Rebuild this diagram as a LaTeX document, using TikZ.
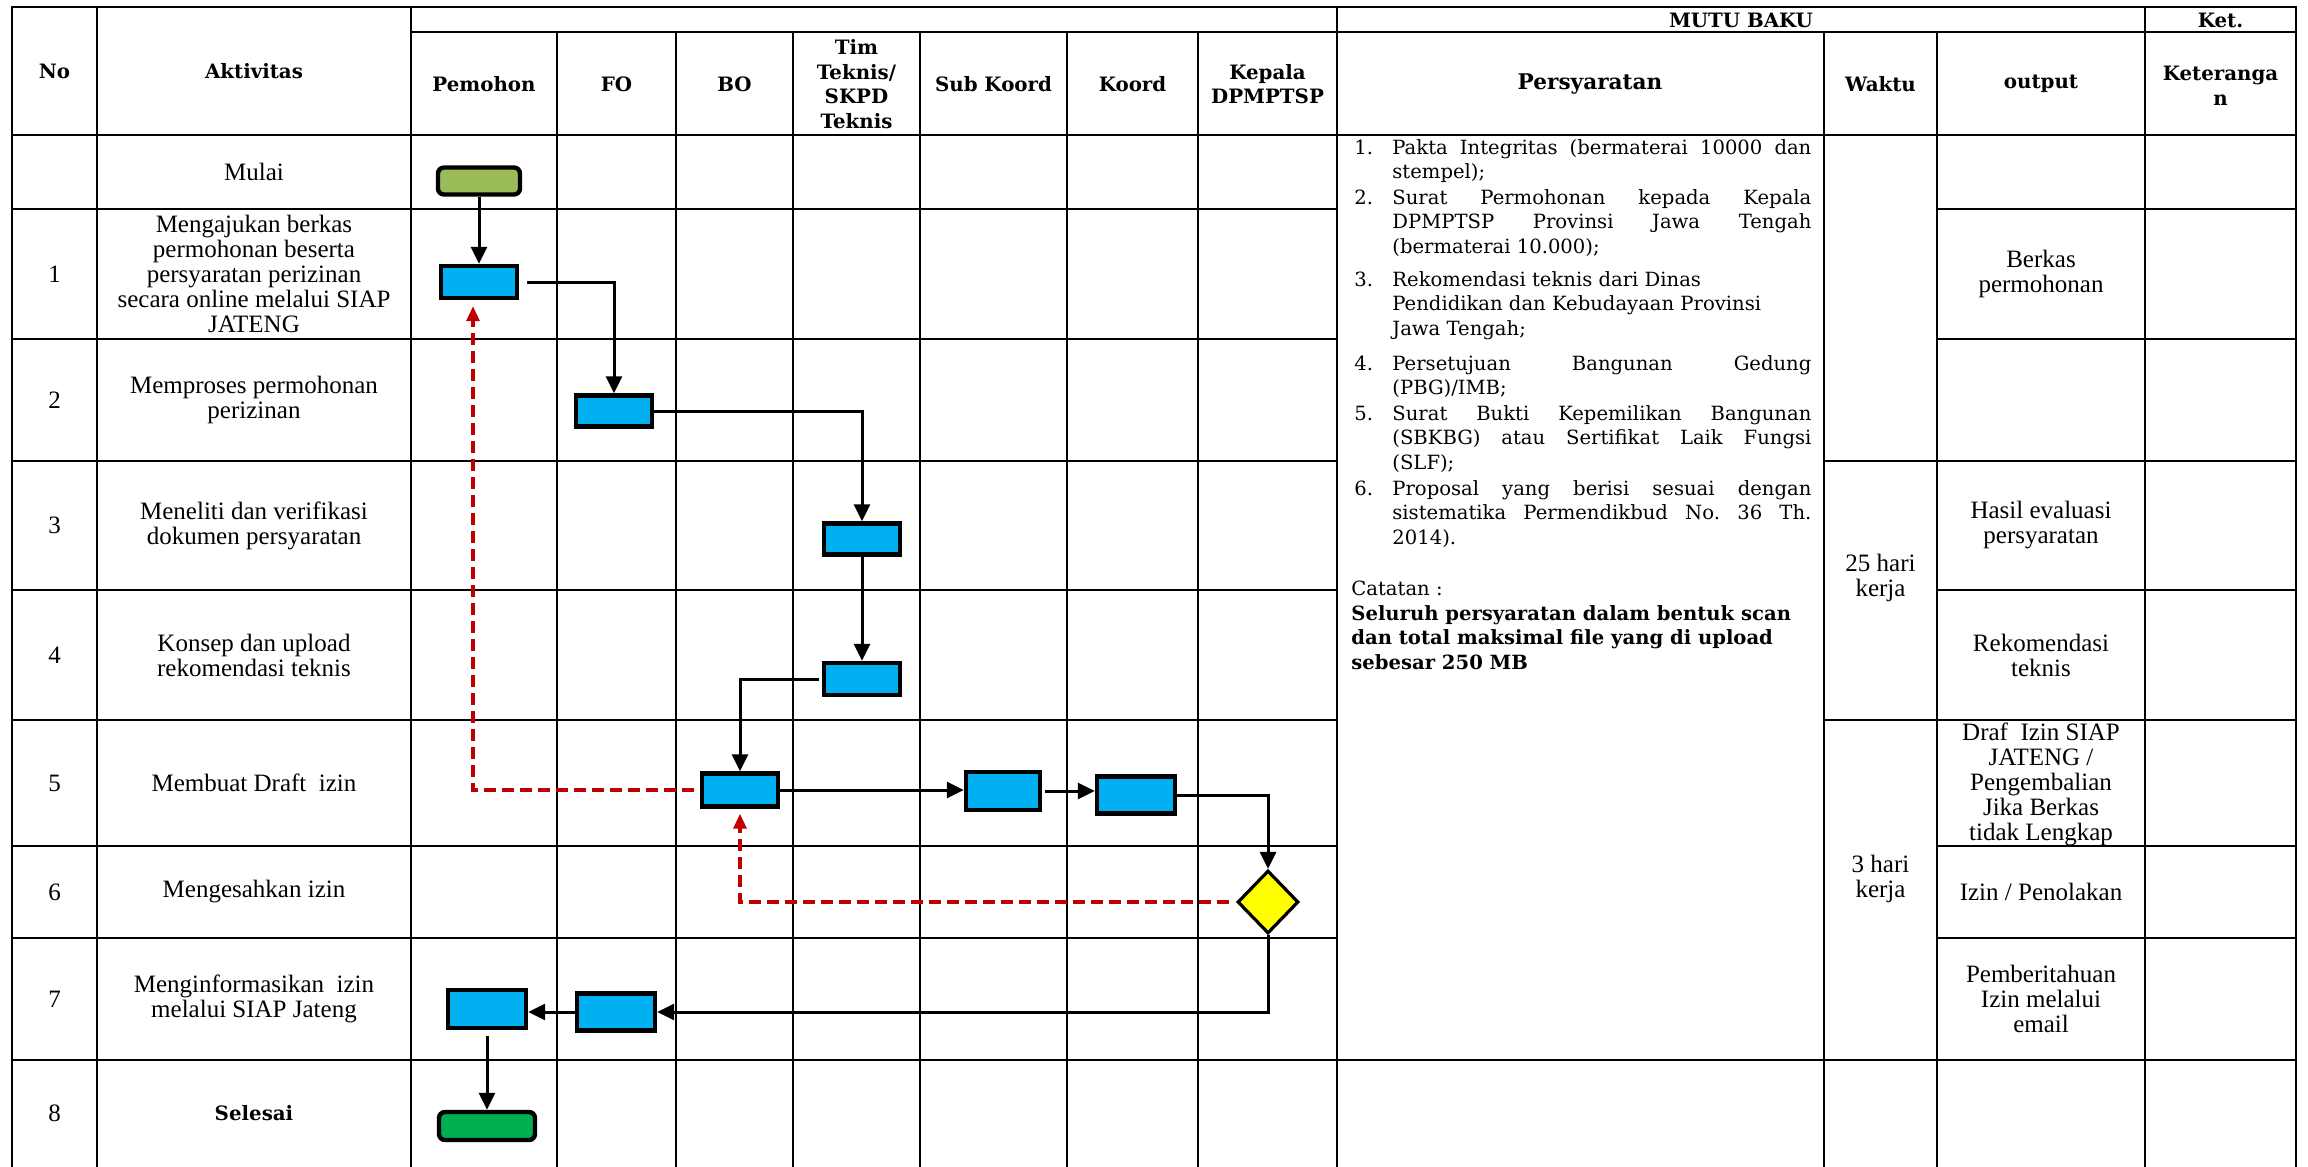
\documentclass[tikz,border=0pt]{standalone}
\usepackage{fontspec}
\setmainfont{Liberation Serif}
\newfontfamily\dvs{DejaVu Serif}
\usetikzlibrary{arrows.meta,shapes.geometric,calc}
\definecolor{procblue}{HTML}{00B0F0}
\definecolor{startgreen}{HTML}{9BBB59}
\definecolor{endgreen}{HTML}{00B050}
\definecolor{backred}{HTML}{C00000}
\definecolor{decyellow}{HTML}{FFFF00}
\hbadness=10000
\tikzset{
  gridl/.style={line width=1.35pt, line cap=rect},
  hdr/.style={font=\dvs\bfseries\fontsize{9.9}{12.3}\selectfont, align=center, inner sep=0pt},
  act/.style={font=\fontsize{12.5}{12.5}\selectfont, align=center, inner sep=0pt},
  pers/.style={font=\dvs\fontsize{9.8}{12.3}\selectfont, inner sep=0pt},
  proc/.style={draw=black, line width=2.2pt, fill=procblue, inner sep=0pt},
  term/.style={draw=black, line width=2.2pt, rounded corners=3pt, inner sep=0pt},
  decision/.style={diamond, draw=black, line width=1.6pt, fill=decyellow, inner sep=0pt, aspect=1},
  flow/.style={line width=1.5pt, -{Triangle[length=8.5pt,width=8pt]}},
  back/.style={line width=1.6pt, draw=backred, dash pattern=on 6pt off 3pt, -{Triangle[length=7.5pt,width=6.5pt]}}
}
\begin{document}
\begin{tikzpicture}[x=0.5pt,y=-0.5pt]
\useasboundingbox (0,0) rectangle (2308,1167);
\fill[white] (0,0) rectangle (2308,1167);

% ---------- grid ----------
\draw[gridl] (12,7) -- (2296,7);
\draw[gridl] (411,32) -- (2296,32);
\draw[gridl] (12,135) -- (2296,135);
\foreach \yy in {209,339,590,846,938}{
  \draw[gridl] (12,\yy) -- (1337,\yy);
  \draw[gridl] (1937,\yy) -- (2296,\yy);
}
\foreach \yy in {461,720}{
  \draw[gridl] (12,\yy) -- (1337,\yy);
  \draw[gridl] (1824,\yy) -- (2296,\yy);
}
\draw[gridl] (12,1060) -- (2296,1060);
\foreach \xx in {12,97,411,1337,2145,2296}{
  \draw[gridl] (\xx,7) -- (\xx,1167);
}
\foreach \xx in {557,676,793,920,1067,1198,1824,1937}{
  \draw[gridl] (\xx,32) -- (\xx,1167);
}

% ---------- header ----------
\node[hdr] (hNo) at (54.5,71) {No};
\node[hdr] (hAkt) at (254,71) {Aktivitas};
\node[hdr] (hPem) at (484,84) {Pemohon};
\node[hdr] (hFO) at (616.5,84) {FO};
\node[hdr] (hBO) at (734.5,84) {BO};
\node[hdr] (hTim) at (856.5,84) {Tim\\Teknis/\\SKPD\\Teknis};
\node[hdr] (hSub) at (993.5,84) {Sub Koord};
\node[hdr] (hKoord) at (1132.5,84) {Koord};
\node[hdr] (hKep) at (1267.5,84) {Kepala\\DPMPTSP};
\node[hdr, font=\dvs\bfseries\fontsize{10.8}{12.3}\selectfont] (hPers) at (1590,84) {Persyaratan};
\node[hdr] (hWaktu) at (1880.5,84) {Waktu};
\node[hdr] (hOut) at (2041,84) {output};
\node[hdr] (hKet) at (2220.5,86) {Keteranga\\n};
\node[hdr] (hMutu) at (1741,20) {MUTU BAKU};
\node[hdr] (hKetS) at (2220.5,20) {Ket.};

% ---------- No column ----------
\node[act] (n1) at (54.5,274) {1};
\node[act] (n2) at (54.5,400) {2};
\node[act] (n3) at (54.5,525.5) {3};
\node[act] (n4) at (54.5,655) {4};
\node[act] (n5) at (54.5,783) {5};
\node[act] (n6) at (54.5,892) {6};
\node[act] (n7) at (54.5,999) {7};
\node[act] (n8) at (54.5,1113.5) {8};

% ---------- Aktivitas ----------
\node[act] (a0) at (254,172) {Mulai};
\node[act] (a1) at (254,274) {Mengajukan berkas\\permohonan beserta\\persyaratan perizinan\\secara online melalui SIAP\\JATENG};
\node[act] (a2) at (254,400) {Memproses permohonan\\perizinan};
\node[act] (a3) at (254,525.5) {Meneliti dan verifikasi\\dokumen persyaratan};
\node[act] (a4) at (254,655) {Konsep dan upload\\rekomendasi teknis};
\node[act] (a5) at (254,783) {Membuat Draft~ izin};
\node[act] (a6) at (254,892) {Mengesahkan izin};
\node[act] (a7) at (254,999) {Menginformasikan~ izin\\melalui SIAP Jateng};
\node[hdr] (a8) at (254,1113.5) {Selesai};

% ---------- Persyaratan ----------
\node[pers, anchor=base west] (p1n) at (1354,154) {1.};
\node[pers, anchor=base west] (p1) at (1392,154) {\parbox[t]{209.5pt}{Pakta Integritas (bermaterai 10000 dan\linebreak stempel);}};
\node[pers, anchor=base west] (p2n) at (1354,204) {2.};
\node[pers, anchor=base west] (p2) at (1392,204) {\parbox[t]{209.5pt}{Surat Permohonan kepada Kepala\linebreak DPMPTSP Provinsi Jawa Tengah\linebreak (bermaterai 10.000);}};
\node[pers, anchor=base west] (p3n) at (1354,286) {3.};
\node[pers, anchor=base west] (p3) at (1392,286) {\parbox[t]{209.5pt}{\raggedright Rekomendasi teknis dari Dinas\\Pendidikan dan Kebudayaan Provinsi\\Jawa Tengah;}};
\node[pers, anchor=base west] (p4n) at (1354,370) {4.};
\node[pers, anchor=base west] (p4) at (1392,370) {\parbox[t]{209.5pt}{Persetujuan Bangunan Gedung\linebreak (PBG)/IMB;}};
\node[pers, anchor=base west] (p5n) at (1354,420) {5.};
\node[pers, anchor=base west] (p5) at (1392,420) {\parbox[t]{209.5pt}{Surat Bukti Kepemilikan Bangunan\linebreak (SBKBG) atau Sertifikat Laik Fungsi\linebreak (SLF);}};
\node[pers, anchor=base west] (p6n) at (1354,495) {6.};
\node[pers, anchor=base west] (p6) at (1392,495) {\parbox[t]{209.5pt}{Proposal yang berisi sesuai dengan\linebreak sistematika Permendikbud No.~36 Th.\linebreak 2014).}};
\node[pers, anchor=base west] (cat) at (1351,595) {Catatan :};
\node[pers, anchor=base west] (catb) at (1351,620) {\parbox[t]{235pt}{\raggedright\bfseries Seluruh persyaratan dalam bentuk scan\\dan total maksimal file yang di upload\\sebesar 250 MB}};

% ---------- Waktu ----------
\node[act] (w1) at (1880.5,578) {25 hari\\kerja};
\node[act] (w2) at (1880.5,879) {3 hari\\kerja};

% ---------- output ----------
\node[act] (o1) at (2041,274) {Berkas\\permohonan};
\node[act] (o3) at (2041,525.5) {Hasil evaluasi\\persyaratan};
\node[act] (o4) at (2041,655) {Rekomendasi\\teknis};
\node[act] (o5) at (2041,784) {Draf~ Izin SIAP\\JATENG /\\Pengembalian\\Jika Berkas\\tidak Lengkap};
\node[act] (o6) at (2041,892) {Izin / Penolakan};
\node[act] (o7) at (2041,999) {Pemberitahuan\\Izin melalui\\email};

% ---------- flow shapes ----------
\node[term, fill=startgreen, minimum width=41pt, minimum height=13.5pt] (mulai) at (479,181) {};
\node[proc, minimum width=38pt, minimum height=16pt] (b1) at (479,282) {};
\node[proc, minimum width=38pt, minimum height=15.5pt] (b2) at (614,411) {};
\node[proc, minimum width=38pt, minimum height=15.5pt] (b3) at (862,539) {};
\node[proc, minimum width=38pt, minimum height=16pt] (b4) at (862,679) {};
\node[proc, minimum width=38pt, minimum height=16.5pt] (b5) at (740,790) {};
\node[proc, minimum width=37pt, minimum height=19pt] (b6) at (1003,791) {};
\node[proc, minimum width=39pt, minimum height=18.5pt] (b7) at (1136,795) {};
\node[decision, minimum width=30.5pt, minimum height=31.5pt] (dia) at (1268,902) {};
\node[proc, minimum width=39pt, minimum height=18.5pt] (b8) at (616,1012) {};
\node[proc, minimum width=39pt, minimum height=19pt] (b9) at (487,1009) {};
\node[term, fill=endgreen, minimum width=48pt, minimum height=14pt] (sel) at (487,1126) {};

% ---------- connectors ----------
\draw[flow] (mulai) -- (b1);
\draw[flow, shorten <=4pt] (b1.east) -| (b2.north);
\draw[flow] (b2.east) -| (b3.north);
\draw[flow] (b3) -- (b4);
\draw[flow, shorten <=1.5pt] (b4.west) -| (b5.north);
\draw[flow] (b5.east) -- (b5.east -| b6.west);
\draw[flow, shorten <=1.5pt] (b6.east) -- (b6.east -| b7.west);
\draw[flow] (b7.east) -| (dia.north);
\draw[flow] (dia.south) |- (b8.east);
\draw[flow] (b8.west) -- (b8.west -| b9.east);
\draw[flow, shorten <=3pt] (b9.south) -- (sel.north);
\draw[back, shorten <=3pt, shorten >=3pt] (b5.west) -| ([xshift=-3pt]b1.south);
\draw[back, shorten <=3.5pt, shorten >=2.5pt] (dia.west) -| (b5.south);
\end{tikzpicture}
\end{document}
